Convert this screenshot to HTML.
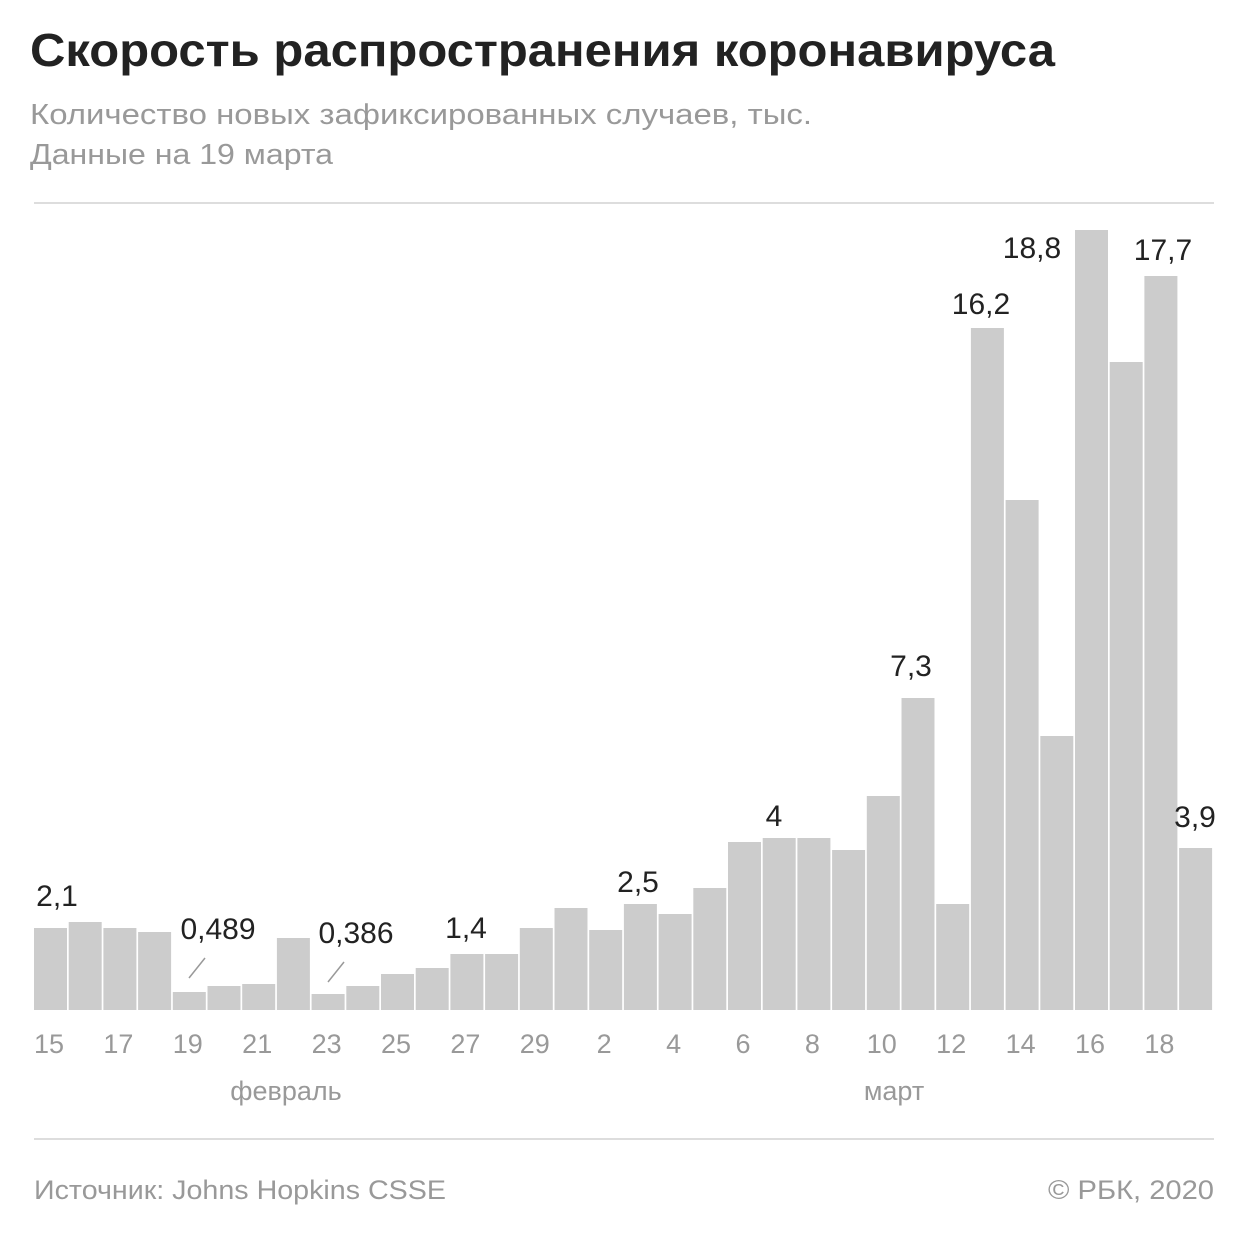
<!DOCTYPE html>
<html><head><meta charset="utf-8"><style>
body{margin:0;background:#fff;width:1240px;height:1240px;overflow:hidden;font-family:"Liberation Sans",sans-serif}
</style></head><body>
<svg width="1240" height="1240" xmlns="http://www.w3.org/2000/svg" font-family="Liberation Sans, sans-serif">
<text x="30" y="66" font-size="46" font-weight="bold" fill="#222" textLength="1025" lengthAdjust="spacingAndGlyphs">Скорость распространения коронавируса</text>
<text x="30" y="124" font-size="29" fill="#999" textLength="782" lengthAdjust="spacingAndGlyphs">Количество новых зафиксированных случаев, тыс.</text>
<text x="30" y="164" font-size="29" fill="#999" textLength="303" lengthAdjust="spacingAndGlyphs">Данные на 19 марта</text>
<line x1="34" y1="203" x2="1214" y2="203" stroke="#ddd" stroke-width="2"/>
<line x1="34" y1="1139" x2="1214" y2="1139" stroke="#ddd" stroke-width="2"/>
<g fill="#cccccc" id="bars"></g>
<g font-size="27" fill="#999" text-anchor="middle" id="ticks"></g>
<text x="286" y="1100" font-size="27" fill="#999" text-anchor="middle">февраль</text>
<text x="894" y="1100" font-size="27" fill="#999" text-anchor="middle">март</text>
<g font-size="30" fill="#222" text-anchor="middle">
<text x="57" y="906">2,1</text>
<text x="218" y="939">0,489</text>
<text x="356" y="943">0,386</text>
<text x="466" y="938">1,4</text>
<text x="638" y="892">2,5</text>
<text x="774" y="826">4</text>
<text x="911" y="676">7,3</text>
<text x="981" y="314">16,2</text>
<text x="1032" y="258">18,8</text>
<text x="1163" y="260">17,7</text>
<text x="1195" y="827">3,9</text>
</g>
<line x1="189" y1="978" x2="205" y2="958" stroke="#999" stroke-width="1.5"/>
<line x1="328" y1="982" x2="344" y2="962" stroke="#999" stroke-width="1.5"/>
<text x="34" y="1199" font-size="27" fill="#999" textLength="412" lengthAdjust="spacingAndGlyphs">Источник: Johns Hopkins CSSE</text>
<text x="1048" y="1199" font-size="27" fill="#999" textLength="166" lengthAdjust="spacingAndGlyphs">© РБК, 2020</text>
</svg>
<script>
var tops=[928,922,928,932,992,986,984,938,994,986,974,968,954,954,928,908,930,904,914,888,842,838,838,850,796,698,904,328,500,736,230,362,276,848];
var ns="http://www.w3.org/2000/svg",b=document.getElementById("bars"),t=document.getElementById("ticks");
var labs={0:"15",2:"17",4:"19",6:"21",8:"23",10:"25",12:"27",14:"29",16:"2",18:"4",20:"6",22:"8",24:"10",26:"12",28:"14",30:"16",32:"18"};
tops.forEach(function(y,i){var x=34+i*34.7;var r=document.createElementNS(ns,"rect");r.setAttribute("x",x);r.setAttribute("y",y);r.setAttribute("width",33);r.setAttribute("height",1010-y);b.appendChild(r);
if(labs[i]!==undefined){var e=document.createElementNS(ns,"text");e.setAttribute("x",x+15);e.setAttribute("y",1053);e.textContent=labs[i];t.appendChild(e);}});
</script>
</body></html>
